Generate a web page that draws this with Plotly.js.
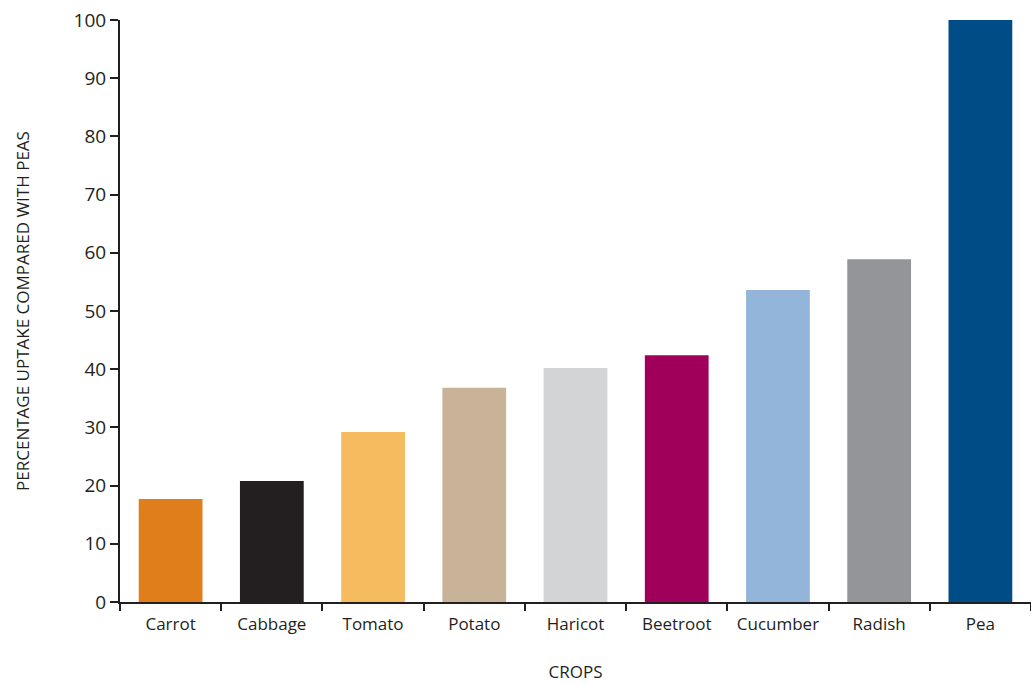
<!DOCTYPE html>
<html><head><meta charset="utf-8">
<script src="https://cdn.plot.ly/plotly-3.0.1.min.js"></script>
<style>body{margin:0;background:#fff}#c{width:1031px;height:686px}</style>
</head><body><div id="c"></div>
<script>
const crops = ["Carrot","Cabbage","Tomato","Potato","Haricot","Beetroot","Cucumber","Radish","Pea"];
const uptake = [17.7, 20.8, 29.2, 36.8, 40.2, 42.4, 53.6, 58.9, 100];
const colors = ["#E07E1C","#231F20","#F5BB5E","#C8B298","#D3D4D6","#A0005A","#93B5D9","#939598","#004C86"];
const yTicks = [0,10,20,30,40,50,60,70,80,90,100];
const fnt = "Open Sans, Noto Sans, sans-serif";
Plotly.newPlot("c", [{
  type: "bar", x: crops, y: uptake, marker: {color: colors}, hoverinfo: "x+y"
}], {
  width: 1031, height: 686,
  margin: {l: 120, r: 0, t: 20, b: 84},
  paper_bgcolor: "#fff", plot_bgcolor: "#fff",
  bargap: 0.37,
  showlegend: false,
  font: {family: fnt, color: "#231F20", size: 17},
  xaxis: {
    showline: true, linecolor: "#231F20", linewidth: 2,
    ticks: "outside", tickson: "boundaries", ticklen: 7, tickwidth: 2, tickcolor: "#231F20",
    tickfont: {size: 17}, ticklabelstandoff: 6,
    title: {text: "CROPS", font: {size: 17}, standoff: 32}
  },
  yaxis: {
    range: [0, 100], tickvals: yTicks, showgrid: false, zeroline: false,
    showline: true, linecolor: "#231F20", linewidth: 2,
    ticks: "outside", ticklen: 8, tickwidth: 2, tickcolor: "#231F20",
    tickfont: {size: 19},
    title: {text: "PERCENTAGE UPTAKE COMPARED WITH PEAS", font: {size: 17}, standoff: 40}
  }
}, {displayModeBar: false});
</script></body></html>
